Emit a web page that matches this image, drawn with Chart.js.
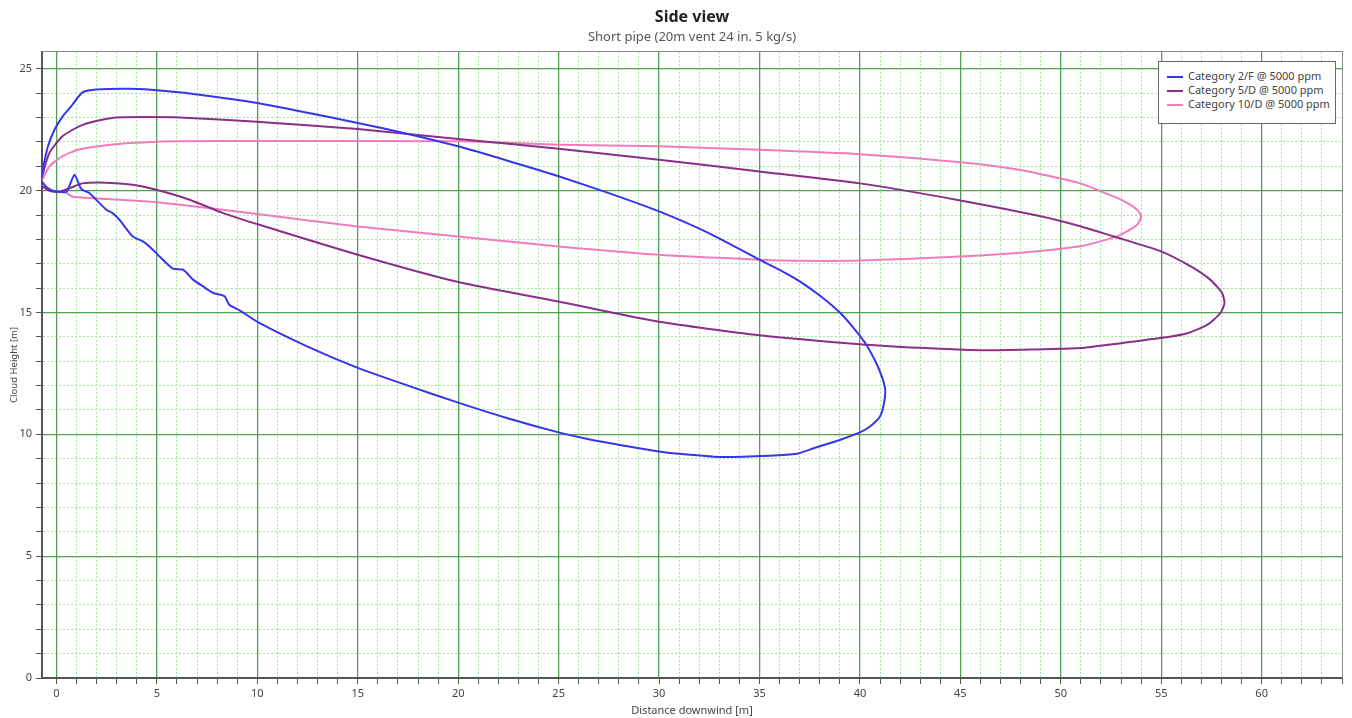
<!DOCTYPE html>
<html>
<head>
<meta charset="utf-8">
<script src="https://cdn.jsdelivr.net/npm/chart.js@4.4.1/dist/chart.umd.min.js"></script>
<style>
  html, body { margin: 0; padding: 0; background: #fff; }
  #wrap { position: relative; width: 1352px; height: 718px; }
  #legendBox {
    position: absolute; left: 1158px; top: 61px; width: 176px; height: 54px;
    border: 1px solid #666; background: #fff; padding-top: 7px; box-sizing: content-box;
    font-family: 'Noto Sans', sans-serif; font-size: 11px; color: #444;
  }
  #legendBox div { height: 14px; line-height: 14px; white-space: nowrap; padding-left: 8px; }
  #legendBox span { display: inline-block; width: 16px; height: 2px; vertical-align: middle; margin-right: 5px; }
</style>
</head>
<body>
<div id="wrap">
  <canvas id="sideChart" width="1352" height="718"></canvas>
  <div id="legendBox"></div>
</div>
<script>
const seriesNames = ['Category 2/F @ 5000 ppm', 'Category 5/D @ 5000 ppm', 'Category 10/D @ 5000 ppm'];
const seriesColors = ['#3535ee', '#8a2e8a', '#f07cbe'];

// Category 2/F outline (upper edge out to the tip, then lower edge back)
const cat2fX = [-0.75, -0.68, -0.43, -0.1, 0.31, 0.73, 0.98, 1.31, 1.98, 3.64, 5.3, 7.5, 10, 12.5, 15, 17.5, 20, 22.5, 25, 27.5, 30, 32.5, 35, 36, 37, 38, 39, 39.7, 40.3, 40.8, 41.1, 41.26, 41.2, 41.0, 40.5, 40.0, 39.0, 37.7, 36.85, 35.5, 33.0, 31.0, 30.0, 28.5, 26.5, 25.0, 22.5, 20.0, 17.5, 15.0, 12.5, 10.1, 9.1, 8.6, 8.37, 7.8, 7.3, 6.8, 6.3, 5.8, 5.13, 4.63, 4.3, 3.8, 3.14, 2.8, 2.48, 2.14, 1.64, 1.23, 0.9, 0.5, 0.2, -0.2, -0.5, -0.75];
const cat2fY = [20.6, 20.9, 21.8, 22.5, 23.05, 23.46, 23.74, 24.04, 24.15, 24.18, 24.1, 23.9, 23.6, 23.2, 22.78, 22.33, 21.82, 21.22, 20.59, 19.9, 19.15, 18.25, 17.17, 16.75, 16.28, 15.7, 15.0, 14.35, 13.7, 12.95, 12.35, 11.83, 11.28, 10.73, 10.32, 10.08, 9.77, 9.43, 9.2, 9.12, 9.07, 9.2, 9.3, 9.5, 9.8, 10.08, 10.65, 11.3, 12.0, 12.73, 13.6, 14.57, 15.1, 15.32, 15.67, 15.8, 16.07, 16.35, 16.76, 16.8, 17.3, 17.71, 17.92, 18.12, 18.8, 19.08, 19.22, 19.49, 19.9, 20.07, 20.65, 19.95, 19.95, 20.0, 20.15, 20.4];

// Category 5/D outline
const cat5dX = [-0.75, -0.71, -0.35, 0.31, 1.15, 1.98, 2.97, 4.47, 6.13, 9.6, 15, 20, 25, 30, 35, 40, 45, 49, 50.97, 52.6, 54.96, 56.45, 57.45, 58.03, 58.15, 57.95, 57.3, 56.3, 54.96, 52.97, 50.97, 48.5, 46, 43, 40, 35, 30, 25, 20, 15, 10.1, 8.3, 6.63, 4.97, 3.8, 2.48, 1.3, 0.65, 0.15, -0.35, -0.75];
const cat5dY = [20.5, 20.6, 21.55, 22.24, 22.65, 22.86, 23.0, 23.02, 23.0, 22.85, 22.53, 22.12, 21.72, 21.27, 20.79, 20.3, 19.6, 18.95, 18.54, 18.13, 17.52, 16.9, 16.34, 15.8, 15.39, 14.98, 14.5, 14.15, 13.95, 13.74, 13.54, 13.48, 13.45, 13.55, 13.7, 14.07, 14.62, 15.45, 16.25, 17.37, 18.6, 19.08, 19.63, 20.04, 20.24, 20.33, 20.3, 20.1, 19.96, 20.0, 20.2];

// Category 10/D outline
const cat10dX = [-0.75, -0.71, -0.35, 0.31, 1.15, 2.8, 4.47, 6.13, 10, 20, 25, 30, 35, 40, 45, 48, 50.97, 51.97, 52.97, 53.8, 54.0, 53.8, 52.97, 51.97, 50.97, 48, 45, 40, 37, 35, 30, 25, 20, 15, 10.1, 7.46, 4.97, 2.48, 0.81, 0.56, 0.3, 0.0, -0.4, -0.75];
const cat10dY = [20.4, 20.45, 21.0, 21.42, 21.7, 21.9, 21.99, 22.03, 22.04, 22.03, 21.89, 21.82, 21.68, 21.5, 21.17, 20.85, 20.3, 19.98, 19.64, 19.22, 18.95, 18.6, 18.19, 17.92, 17.72, 17.45, 17.3, 17.13, 17.12, 17.17, 17.37, 17.71, 18.12, 18.53, 19.03, 19.3, 19.53, 19.66, 19.75, 19.88, 20.0, 19.97, 20.05, 20.2];

const xTickStep = 5;
const yTickStep = 5;

const FONT = "'Noto Sans', sans-serif";
const MAJOR_GRID = '#52a052';
const MINOR_GRID = '#a2e6a2';

function toPoints(xs, ys) {
  return xs.map((x, i) => ({x: x, y: ys[i]}));
}

const allX = [cat2fX, cat5dX, cat10dX];
const allY = [cat2fY, cat5dY, cat10dY];

const datasets = seriesNames.map((name, i) => ({
  label: name,
  data: toPoints(allX[i], allY[i]),
  borderColor: seriesColors[i],
  backgroundColor: seriesColors[i],
  borderWidth: 2,
  pointRadius: 0,
  showLine: true,
  tension: 0.2,
  fill: false
}));

Chart.defaults.font.family = FONT;

const minorGrid = (step) => ({
  color: (c) => (c.tick && c.tick.value % step === 0) ? 'rgba(0,0,0,0)' : MINOR_GRID,
  lineWidth: 1,
  drawTicks: true,
  tickLength: 6,
  tickColor: '#555',
  tickWidth: 1
});

new Chart(document.getElementById('sideChart').getContext('2d'), {
  type: 'scatter',
  data: {datasets: datasets},
  options: {
    responsive: false,
    animation: false,
    layout: {padding: {left: 0, right: 10, top: 0, bottom: 0}},
    scales: {
      x: {
        type: 'linear', position: 'bottom', min: -0.72, max: 64,
        grid: minorGrid(xTickStep),
        border: {color: '#555', width: 2, dash: [2, 2]},
        ticks: {
          stepSize: 1, includeBounds: false, autoSkip: false, maxRotation: 0, padding: 3,
          color: '#444', font: {size: 11},
          callback: (v) => v % xTickStep === 0 ? String(v) : ''
        },
        title: {display: true, text: 'Distance downwind [m]', color: '#444', font: {size: 11}, padding: {top: 0, bottom: 1}},
        afterFit: (s) => { s.height = 40; }
      },
      y: {
        type: 'linear', position: 'left', min: 0, max: 25.7,
        grid: minorGrid(yTickStep),
        border: {color: '#555', width: 2, dash: [2, 2]},
        ticks: {
          stepSize: 1, includeBounds: false, autoSkip: false, padding: 4,
          color: '#444', font: {size: 11},
          callback: (v) => v % yTickStep === 0 ? String(v) : ''
        },
        title: {display: true, text: 'Cloud Height [m]', color: '#444', font: {size: 9.5}, padding: {top: 9, bottom: 0}},
        afterFit: (s) => { s.width = 42; }
      },
      xMajor: {
        type: 'linear', position: 'top', min: -0.72, max: 64,
        grid: {color: MAJOR_GRID, lineWidth: 1.3, drawTicks: false},
        border: {color: '#888', width: 1},
        ticks: {display: false, stepSize: xTickStep, includeBounds: false, autoSkip: false},
        afterFit: (s) => { s.height = 0; }
      },
      yMajor: {
        type: 'linear', position: 'right', min: 0, max: 25.7,
        grid: {color: MAJOR_GRID, lineWidth: 1.3, drawTicks: false},
        border: {color: '#888', width: 1},
        ticks: {display: false, stepSize: yTickStep, includeBounds: false, autoSkip: false},
        afterFit: (s) => { s.width = 0; }
      }
    },
    plugins: {
      legend: {display: false},
      tooltip: {enabled: false},
      title: {
        display: true, fullSize: false, text: 'Side view', color: '#222',
        font: {size: 16, weight: 'bold'}, padding: {top: 8, bottom: 2}
      },
      subtitle: {
        display: true, fullSize: false, text: 'Short pipe (20m vent 24 in. 5 kg/s)', color: '#555',
        font: {size: 13}, padding: {top: 0, bottom: 7}
      }
    }
  }
});

// html legend in the top right corner of the plot
const legendBox = document.getElementById('legendBox');
seriesNames.forEach((name, i) => {
  const row = document.createElement('div');
  const sw = document.createElement('span');
  sw.style.background = seriesColors[i];
  row.appendChild(sw);
  row.appendChild(document.createTextNode(name));
  legendBox.appendChild(row);
});
</script>
</body>
</html>
